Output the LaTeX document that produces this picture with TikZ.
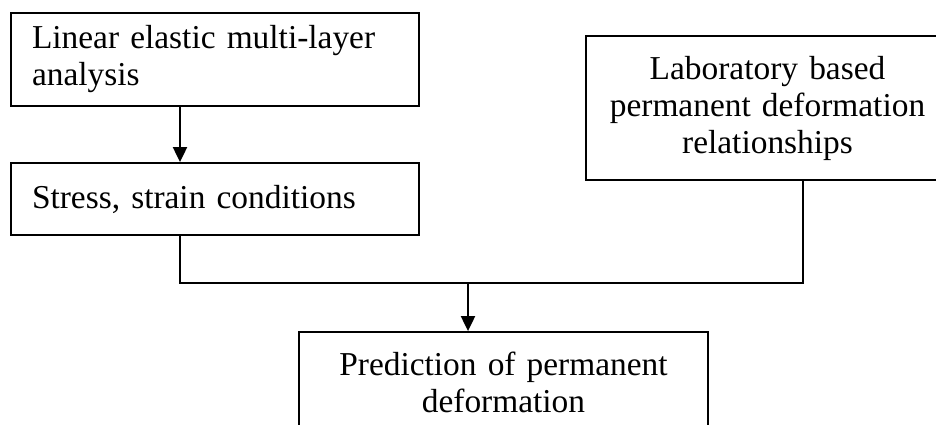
\documentclass[tikz,border=0pt]{standalone}
\usepackage{fontspec}
\setmainfont{Liberation Serif}
\usetikzlibrary{arrows.meta}
\begin{document}
\begin{tikzpicture}[x=1pt,y=-1pt,
  box/.style={draw, line width=1.8pt, inner sep=0pt, font=\fontsize{33.4}{37}\selectfont},
  link/.style={line width=1.4pt},
  arr/.style={line width=2pt, -{Triangle[length=15pt,width=14pt]}}]
\useasboundingbox (0,0) rectangle (936,425);
\clip (0,0) rectangle (936,425);
\node[box, minimum width=408pt, minimum height=93pt, text width=366pt, align=left] (b1) at (215,59.5) {Linear elastic multi-layer\\analysis};
\node[box, minimum width=408pt, minimum height=72pt, text width=366pt, align=left] (b2) at (215,199) {Stress, strain conditions};
\node[box, minimum width=363pt, minimum height=144pt, text width=340pt, align=center] (b3) at (767.5,108) {Laboratory based\\permanent deformation\\relationships};
\node[box, minimum width=409pt, minimum height=100pt, text width=380pt, align=center] (b4) at (503.5,382) {Prediction of permanent\\deformation};
\coordinate (jl) at (180,283);
\coordinate (jr) at (803,283);
\coordinate (jm) at (468,283);
\draw[arr] (b1.south -| jl) -- (b2.north -| jl);
\draw[link] (b2.south -| jl) -- (jl) -- (jr) -- (b3.south -| jr);
\draw[arr] (jm) -- (b4.north -| jm);
\end{tikzpicture}
\end{document}
